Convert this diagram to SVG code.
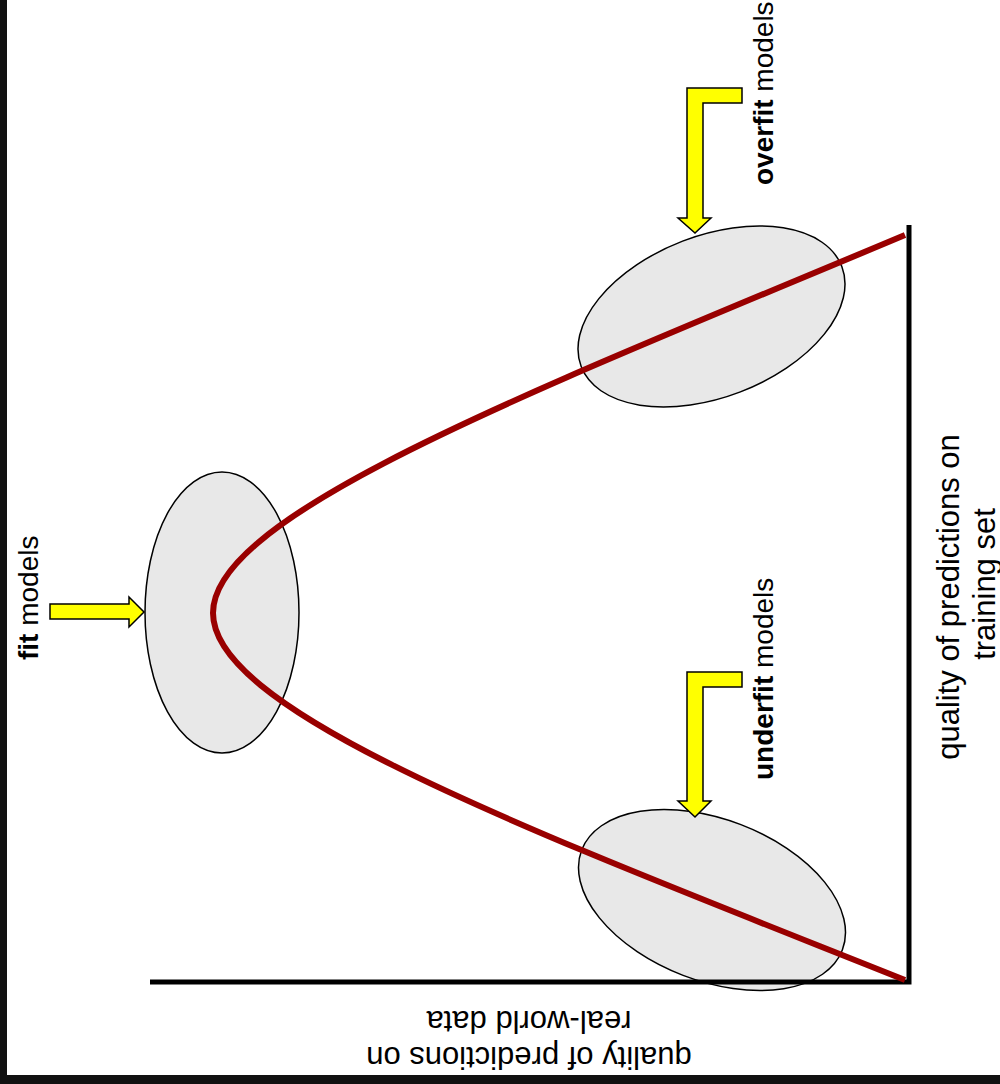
<svg xmlns="http://www.w3.org/2000/svg" width="1000" height="1084" viewBox="0 0 1000 1084">
<style>
.lbl{font-family:"Liberation Sans",Arial,sans-serif;font-size:28px;fill:#000}
.ax{font-family:"Liberation Sans",Arial,sans-serif;font-size:31px;fill:#000}
.b{font-weight:bold}
.blob{fill:#e8e8e8;stroke:#000;stroke-width:1.5}
.arrow{fill:#ffff00;stroke:#000;stroke-width:1.5;stroke-linejoin:miter}
</style>
<rect x="0" y="0" width="1000" height="1084" fill="#ffffff"/>
<rect x="0" y="0" width="7" height="1084" fill="#111111"/>
<rect x="0" y="1075" width="1000" height="9" fill="#111111"/>

<g id="fit-node">
  <ellipse class="blob" cx="222" cy="612.5" rx="77" ry="140.5"/>
</g>
<g id="overfit-node">
  <ellipse class="blob" cx="0" cy="0" rx="139.6" ry="80.7" transform="translate(711.5,316.5) rotate(-21)"/>
</g>
<g id="underfit-node">
  <ellipse class="blob" cx="0" cy="0" rx="139.6" ry="80.7" transform="translate(712,900) rotate(21)"/>
</g>

<g id="axes">
  <path d="M909,225 V982 H150" fill="none" stroke="#000" stroke-width="5" stroke-linejoin="miter"/>
</g>

<g id="connectors">
  <path d="M905,235 C536,390 213,513 213,613 C213,713 534,832 905,980" fill="none" stroke="#990000" stroke-width="6" stroke-linecap="butt"/>
  <polygon class="arrow" points="50,604 129,604 129,597 144,612 129,627 129,619 50,619"/>
  <polygon class="arrow" points="742,88 687,88 687,218 678,218 695,233 711,218 703,218 703,103 742,103"/>
  <polygon class="arrow" points="742,672 687,672 687,801 678,801 695,817 711,801 703,801 703,687 742,687"/>
</g>

<g id="fit-label">
  <text class="lbl" transform="translate(38,660) rotate(-90)"><tspan class="b">fit</tspan> models</text>
</g>
<g id="overfit-label">
  <text class="lbl" transform="translate(773,185) rotate(-90)"><tspan class="b">overfit</tspan> models</text>
</g>
<g id="underfit-label">
  <text class="lbl" transform="translate(773,780) rotate(-90)"><tspan class="b">underfit</tspan> models</text>
</g>

<g id="y-axis-label">
  <text class="ax" text-anchor="middle" transform="translate(959,597) rotate(-90)">quality of predictions on</text>
  <text class="ax" text-anchor="middle" transform="translate(995,584) rotate(-90)">training set</text>
</g>
<g id="x-axis-label">
  <text class="ax" text-anchor="middle" transform="translate(529,1047) rotate(180)">quality of predictions on</text>
  <text class="ax" text-anchor="middle" transform="translate(529,1011) rotate(180)">real-world data</text>
</g>
</svg>
